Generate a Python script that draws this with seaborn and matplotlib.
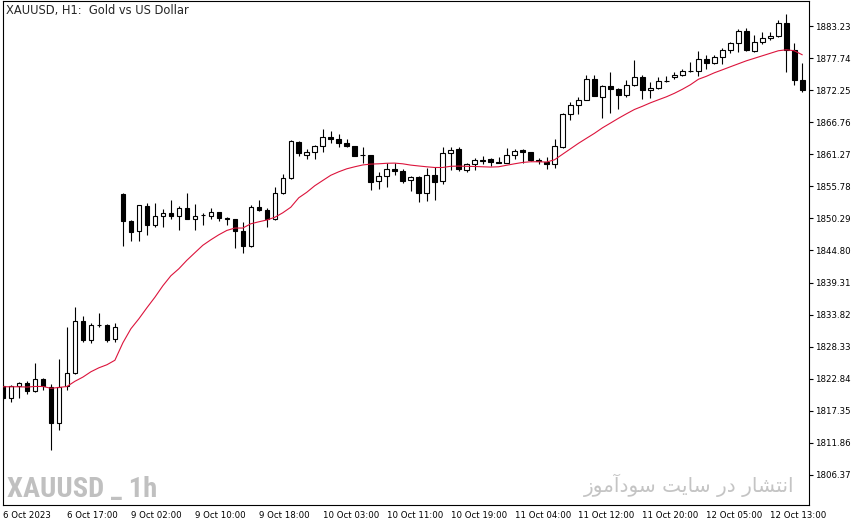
import numpy as np
import pandas as pd
import seaborn as sns
import matplotlib
matplotlib.use("Agg")
import matplotlib.pyplot as plt
from matplotlib import font_manager

sns.set_style("white")
plt.rcParams["font.family"] = ["DejaVu Sans"]

# XAUUSD H1 candles, 6 Oct 09:00 .. 12 Oct 17:00
opens = [1821.64, 1819.54, 1821.52, 1822.10, 1820.74, 1822.79, 1821.42, 1815.19, 1821.52, 1823.82,
         1832.72, 1829.40, 1831.96, 1832.03, 1829.57, 1854.51, 1849.89, 1848.12, 1852.40, 1849.08,
         1850.69, 1851.20, 1850.69, 1852.06, 1850.18, 1850.80, 1850.69, 1851.37, 1850.35, 1850.18,
         1848.12, 1845.49, 1852.23, 1851.71, 1850.18, 1854.63, 1857.19, 1863.36, 1861.13, 1861.64,
         1862.67, 1864.21, 1863.87, 1863.19, 1862.67, 1861.07, 1861.07, 1856.67, 1857.53, 1858.74,
         1858.38, 1856.85, 1857.36, 1854.63, 1857.71, 1856.67, 1861.47, 1862.16, 1858.57, 1859.59,
         1860.33, 1860.44, 1859.93, 1859.76, 1861.13, 1861.99, 1861.64, 1860.33, 1859.93, 1859.59,
         1862.50, 1868.15, 1869.69, 1870.54, 1874.13, 1871.06, 1872.94, 1872.43, 1871.40, 1873.11,
         1874.48, 1872.25, 1872.60, 1873.80, 1874.48, 1874.82, 1875.50, 1875.51, 1877.56, 1876.97,
         1877.91, 1879.07, 1880.27, 1882.32, 1878.90, 1880.44, 1881.12, 1881.47, 1883.69, 1879.07,
         1873.94]
highs = [1821.90, 1821.81, 1822.21, 1822.50, 1825.46, 1822.96, 1821.93, 1826.26, 1831.74, 1835.16,
         1833.62, 1832.37, 1834.14, 1832.20, 1832.37, 1854.63, 1850.06, 1852.60, 1852.91, 1852.91,
         1851.89, 1853.48, 1852.40, 1854.63, 1852.74, 1851.20, 1852.06, 1851.37, 1850.52, 1850.20,
         1849.66, 1852.57, 1853.48, 1852.06, 1855.66, 1857.93, 1863.63, 1863.53, 1862.16, 1862.84,
         1865.58, 1865.24, 1864.73, 1863.87, 1862.70, 1862.50, 1861.10, 1858.22, 1859.76, 1859.76,
         1858.74, 1857.53, 1857.53, 1858.91, 1859.08, 1862.50, 1862.50, 1862.50, 1859.76, 1860.62,
         1860.89, 1860.62, 1860.79, 1862.33, 1862.16, 1862.16, 1861.64, 1860.62, 1860.79, 1863.87,
         1868.32, 1870.20, 1871.06, 1874.82, 1874.82, 1873.11, 1875.35, 1872.60, 1873.97, 1877.39,
         1874.82, 1873.62, 1874.48, 1874.65, 1875.35, 1875.85, 1877.05, 1878.93, 1878.25, 1878.25,
         1879.40, 1880.44, 1882.66, 1882.84, 1881.64, 1882.15, 1882.15, 1884.20, 1885.23, 1880.27,
         1876.85]
lows = [1819.20, 1818.78, 1819.47, 1820.22, 1820.60, 1820.90, 1810.57, 1813.99, 1820.96, 1823.70,
        1829.05, 1828.88, 1831.62, 1829.20, 1829.05, 1845.49, 1846.46, 1846.34, 1847.37, 1848.90,
        1848.74, 1850.11, 1848.23, 1850.18, 1848.29, 1849.08, 1850.11, 1849.93, 1849.08, 1845.15,
        1844.36, 1845.32, 1851.54, 1848.74, 1850.10, 1854.50, 1857.10, 1860.89, 1860.44, 1860.44,
        1861.64, 1863.19, 1862.50, 1862.50, 1860.90, 1859.76, 1855.24, 1855.41, 1855.67, 1857.71,
        1856.34, 1854.97, 1853.09, 1853.26, 1853.43, 1856.16, 1858.57, 1858.38, 1858.22, 1858.57,
        1859.59, 1859.20, 1859.76, 1859.76, 1860.44, 1859.76, 1860.11, 1859.59, 1858.74, 1858.91,
        1862.40, 1867.13, 1868.17, 1870.50, 1871.20, 1867.47, 1868.32, 1869.01, 1871.06, 1872.94,
        1870.71, 1870.89, 1872.43, 1873.62, 1874.14, 1874.65, 1875.30, 1874.65, 1875.85, 1876.79,
        1876.79, 1878.56, 1878.73, 1878.90, 1878.73, 1880.10, 1880.79, 1881.40, 1875.30, 1873.08,
        1871.88]
closes = [1819.47, 1821.52, 1822.10, 1820.67, 1822.79, 1821.52, 1815.19, 1821.42, 1823.82, 1832.72,
          1829.40, 1832.03, 1831.96, 1829.52, 1831.69, 1849.77, 1848.05, 1852.57, 1849.08, 1850.69,
          1851.20, 1850.63, 1852.06, 1850.18, 1850.69, 1850.80, 1851.37, 1850.28, 1850.11, 1848.12,
          1845.49, 1852.23, 1851.71, 1850.18, 1854.63, 1857.19, 1863.53, 1861.41, 1861.64, 1862.67,
          1864.21, 1863.87, 1863.19, 1862.67, 1860.96, 1861.07, 1856.61, 1857.53, 1858.74, 1858.33,
          1856.67, 1857.36, 1854.63, 1857.71, 1856.61, 1861.47, 1861.99, 1858.74, 1859.59, 1860.27,
          1860.11, 1859.93, 1859.76, 1861.13, 1861.81, 1861.64, 1860.27, 1860.04, 1859.59, 1862.67,
          1868.15, 1869.69, 1870.54, 1874.13, 1871.23, 1872.94, 1872.43, 1871.40, 1873.11, 1874.48,
          1872.25, 1872.60, 1873.80, 1873.80, 1874.82, 1875.51, 1875.50, 1877.56, 1876.88, 1877.91,
          1879.07, 1880.27, 1882.32, 1879.07, 1880.44, 1881.12, 1881.47, 1883.69, 1879.07, 1873.94,
          1872.25]

# moving average line
ma_values = [1821.47, 1821.47, 1821.47, 1821.42, 1821.52, 1821.52, 1821.21, 1821.35, 1821.52, 1822.41,
             1823.13, 1824.04, 1824.72, 1825.24, 1826.01, 1829.00, 1831.40, 1833.11, 1834.99, 1836.79,
             1838.76, 1840.47, 1841.67, 1843.12, 1844.41, 1845.69, 1846.63, 1847.49, 1848.23, 1848.64,
             1848.64, 1849.37, 1849.71, 1850.02, 1850.48, 1851.25, 1852.20, 1853.82, 1854.76, 1855.88,
             1856.78, 1857.67, 1858.27, 1858.78, 1859.13, 1859.44, 1859.59, 1859.64, 1859.73, 1859.76,
             1859.64, 1859.42, 1859.27, 1859.13, 1859.01, 1859.01, 1859.21, 1859.25, 1859.21, 1859.18,
             1859.13, 1859.08, 1859.13, 1859.39, 1859.64, 1859.87, 1859.99, 1859.99, 1859.94, 1860.33,
             1861.27, 1862.21, 1863.15, 1864.01, 1864.86, 1865.80, 1866.61, 1867.43, 1868.20, 1868.94,
             1869.49, 1870.08, 1870.60, 1871.11, 1871.71, 1872.40, 1873.17, 1874.11, 1874.62, 1875.22,
             1875.73, 1876.25, 1876.76, 1877.27, 1877.70, 1878.13, 1878.56, 1878.99, 1879.16, 1878.99,
             1878.30]

time_labels = ["6 Oct 2023", "6 Oct 17:00", "9 Oct 02:00", "9 Oct 10:00", "9 Oct 18:00",
               "10 Oct 03:00", "10 Oct 11:00", "10 Oct 19:00", "11 Oct 04:00", "11 Oct 12:00",
               "11 Oct 20:00", "12 Oct 05:00", "12 Oct 13:00"]
label_bars = [0, 8, 16, 24, 32, 40, 48, 56, 64, 72, 80, 88, 96]
price_ticks = [1806.37, 1811.86, 1817.35, 1822.84, 1828.33, 1833.82, 1839.31, 1844.80,
               1850.29, 1855.78, 1861.27, 1866.76, 1872.25, 1877.74, 1883.23]

title = "XAUUSD, H1:  Gold vs US Dollar"
watermark = "XAUUSD _ 1h"
# "انتشار در سایت سودآموز" written with shaped letter forms, words in reading order
persian_words = ["\uFE8D\uFEE7\uFE98\uFEB8\uFE8E\uFEAD",
                 "\uFEA9\uFEAD",
                 "\uFEB3\uFE8E\uFEF3\uFE96",
                 "\uFEB3\uFEEE\uFEA9\uFE81\uFEE3\uFEEE\uFEAF"]

df = pd.DataFrame({"bar": np.arange(len(opens)), "open": opens, "high": highs,
                   "low": lows, "close": closes, "ma": ma_values})

fig = plt.figure(figsize=(8.62, 5.27), dpi=100)
ax = fig.add_axes([3 / 862, 22 / 527, 806 / 862, 504 / 527])

# wicks
ax.vlines(df["bar"], df["low"], df["high"], color="black", linewidth=0.8, zorder=2)

up = df[df["close"] >= df["open"]]
down = df[df["close"] < df["open"]]
ax.bar(up["bar"], up["close"] - up["open"], bottom=up["open"], width=0.56,
       facecolor="white", edgecolor="black", linewidth=0.8, zorder=3)
ax.bar(down["bar"], down["close"] - down["open"], bottom=down["open"], width=0.56,
       facecolor="black", edgecolor="black", linewidth=0.8, zorder=3)

sns.lineplot(data=df, x="bar", y="ma", color="#dc143c", linewidth=0.8, ax=ax, zorder=4)

ax.set_xlim(0.09, 100.84)
ax.set_ylim(1801.23, 1887.51)
ax.set_xlabel("")
ax.set_ylabel("")

ax.yaxis.tick_right()
ax.set_yticks(price_ticks)
ax.set_yticklabels([f"{p:.2f}" for p in price_ticks])
ax.set_xticks(label_bars)
ax.set_xticklabels(time_labels, ha="left")
ax.tick_params(axis="y", direction="out", length=3, width=0.8, pad=1, labelsize=6.2, colors="black")
ax.tick_params(axis="x", direction="out", length=4, width=0.8, pad=0.5, labelsize=6.2, colors="black")
for s in ax.spines.values():
    s.set_color("black")
    s.set_linewidth(0.8)

fig.text(6 / 862, 1 - 4 / 527, title, fontsize=8.3, va="top", ha="left")

# narrowest bold family on hand for the big watermark
names = {f.name for f in font_manager.fontManager.ttflist}
wm_family = "DejaVu Sans"
for cand in ["Liberation Sans Narrow", "Roboto Condensed", "DejaVu Sans Condensed", "Roboto"]:
    if cand in names:
        wm_family = cand
        break
fig.text(7 / 862, 1 - 497 / 527, watermark, fontsize=20.5, fontweight="bold",
         family=wm_family, color="#c0c0c0", ha="left", va="baseline", zorder=0)

persian = "".join(reversed(" ".join(persian_words)))
fig.text(794 / 862, 1 - 492 / 527, persian, fontsize=14.5, family=["DejaVu Sans"],
         color="#c4c4c4", ha="right", va="baseline")

fig.savefig("out.png", dpi=100)
